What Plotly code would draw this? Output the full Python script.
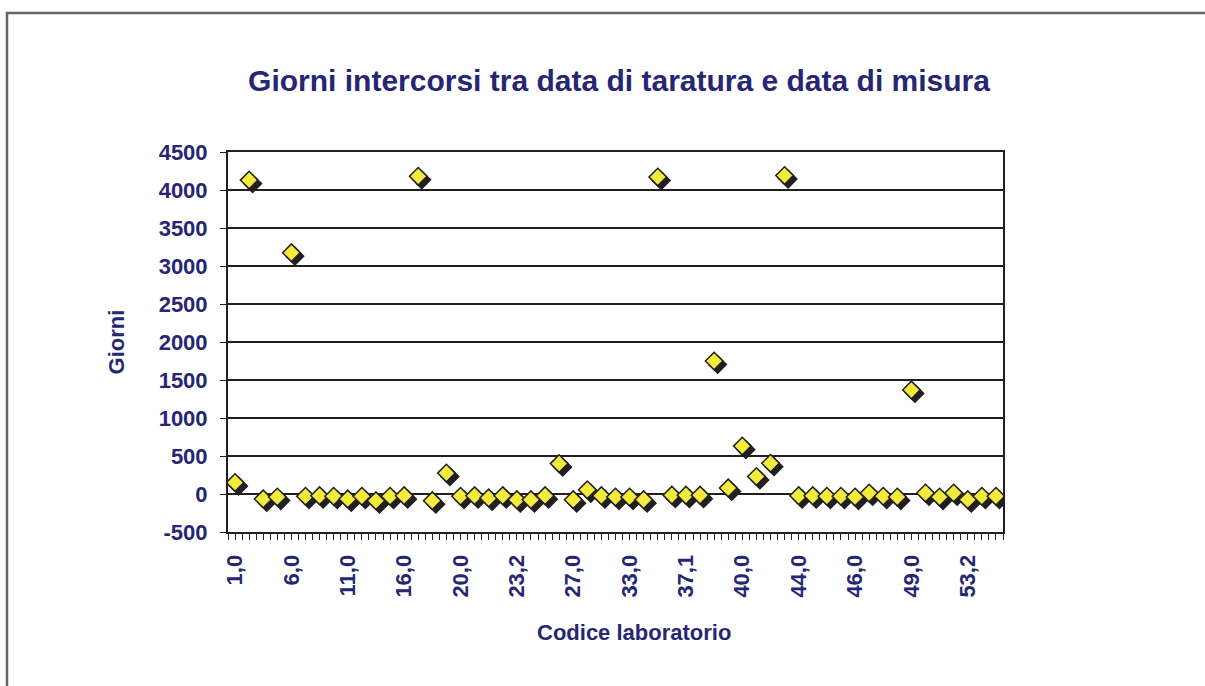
import plotly.graph_objects as go

# Data
lab_index = list(range(55))
giorni = [150, 4130, -65, -40, 3175, -30, -22, -30, -65, -30, -88, -30, -22, 4180,
          -88, 275, -30, -22, -52, -22, -75, -75, -22, 400, -75, 55, -22, -40,
          -40, -75, 4170, -15, -15, -15, 1750, 80, 630, 230, 405, 4190, -22, -22,
          -30, -30, -40, 13, -30, -40, 1370, 13, -40, 13, -75, -30, -30]
tick_positions = [0, 4, 8, 12, 16, 20, 24, 28, 32, 36, 40, 44, 48, 52]
tick_labels = ["1,0", "6,0", "11,0", "16,0", "20,0", "23,2", "27,0", "33,0",
               "37,1", "40,0", "44,0", "46,0", "49,0", "53,2"]
y_ticks = [-500, 0, 500, 1000, 1500, 2000, 2500, 3000, 3500, 4000, 4500]

NAVY = "#262673"
W, H = 1205, 686
ML, MR, MT, MB = 228, 202, 152, 154
pw, ph = W - ML - MR, H - MT - MB
xrange_ = [-0.5, 54.5]
yrange_ = [-500, 4500]
px_per_x = pw / (xrange_[1] - xrange_[0])
px_per_y = ph / (yrange_[1] - yrange_[0])
shadow_px = 3.5


def px2paper_x(p):
    return (p - ML) / pw


def px2paper_y(p):
    return (H - MB - p) / ph


fig = go.Figure()
# shadow
fig.add_trace(go.Scatter(
    x=[v + shadow_px / px_per_x for v in lab_index],
    y=[v - shadow_px / px_per_y for v in giorni],
    mode="markers",
    marker=dict(symbol="diamond", size=13.5, color="#231F20",
                line=dict(color="#231F20", width=1.5)),
    hoverinfo="skip", showlegend=False))
fig.add_trace(go.Scatter(
    x=lab_index, y=giorni, mode="markers",
    marker=dict(symbol="diamond", size=13.5, color="#F2EA3C",
                line=dict(color="#231F20", width=1.5)),
    showlegend=False))

fig.update_layout(
    width=W, height=H,
    margin=dict(l=ML, r=MR, t=MT, b=MB),
    paper_bgcolor="white", plot_bgcolor="white",
    font=dict(family="Liberation Sans, Arial, sans-serif", color=NAVY),
    title=dict(text="<b>Giorni intercorsi tra data di taratura e data di misura</b>",
               x=px2paper_x(619), xanchor="center", xref="paper", y=1 - 80 / H,
               yanchor="middle", font=dict(size=30, color=NAVY)),
    xaxis=dict(range=xrange_, tickmode="array", tickvals=tick_positions,
               ticktext=["<b>%s</b>" % t for t in tick_labels],
               tickangle=-90, tickfont=dict(size=22, color=NAVY),
               ticklabelstandoff=6,
               showgrid=False, zeroline=False, showline=True, linecolor="#231F20",
               linewidth=2, mirror=True, ticks="outside", ticklen=6, tickwidth=1,
               tickcolor="#231F20",
               minor=dict(dtick=0.5, tick0=0, ticks="outside", ticklen=6,
                          tickcolor="#231F20", tickwidth=1, showgrid=False)),
    yaxis=dict(range=yrange_, tickmode="array", tickvals=y_ticks,
               ticktext=["<b>%d</b>" % v for v in y_ticks],
               tickfont=dict(size=22, color=NAVY),
               ticklabelstandoff=8,
               showgrid=True, gridcolor="#231F20", gridwidth=1.8, zeroline=False,
               showline=True, linecolor="#231F20", linewidth=2, mirror=True,
               ticks="outside", ticklen=6, tickcolor="#231F20",
               title=dict(text="<b>Giorni</b>", font=dict(size=22, color=NAVY),
                          standoff=28)),
)

fig.add_annotation(text="<b>Codice laboratorio</b>", xref="paper", yref="paper",
                   x=px2paper_x(634), y=px2paper_y(632), xanchor="center",
                   yanchor="middle", showarrow=False,
                   font=dict(size=22, color=NAVY))

# outer chart border (only top and left edges visible in the reference)
border = dict(color="#666666", width=2.5)
fig.add_shape(type="line", xref="paper", yref="paper",
              x0=px2paper_x(6), x1=px2paper_x(1205),
              y0=px2paper_y(13), y1=px2paper_y(13), line=border, layer="below")
fig.add_shape(type="line", xref="paper", yref="paper",
              x0=px2paper_x(7), x1=px2paper_x(7),
              y0=px2paper_y(12), y1=px2paper_y(686), line=border, layer="below")

fig.write_html("out.html", config={"displayModeBar": False},
               post_script="document.body.style.margin='0px';document.body.style.overflow='hidden';")
